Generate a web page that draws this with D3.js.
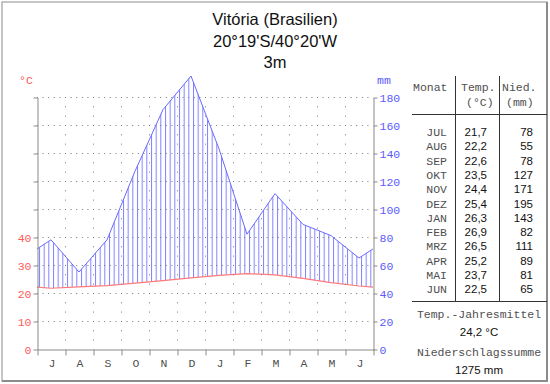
<!DOCTYPE html>
<html lang="de">
<head>
<meta charset="UTF-8">
<title>Klimadiagramm Vitória</title>
<script src="https://d3js.org/d3.v7.min.js"></script>
<style>
html, body { margin: 0; padding: 0; background: white; }
.mono { font-family: 'Liberation Mono', 'Courier New', monospace; font-size: 11.5px; }
.sans { font-family: 'Liberation Sans', Arial, sans-serif; }
.axis path, .axis line { stroke: #8a8a8a; }
.axis text { font-family: 'Liberation Mono', 'Courier New', monospace; font-size: 11.5px; }
</style>
</head>
<body>
<div id="chart"></div>
<script>

// --------------------------------------
// Data
// --------------------------------------

let months = ["J", "A", "S", "O", "N", "D", "J", "F", "M", "A", "M", "J"];
let tableMonths = ["JUL", "AUG", "SEP", "OKT", "NOV", "DEZ", "JAN", "FEB", "MRZ", "APR", "MAI", "JUN"];
let temps = [21.7, 22.2, 22.6, 23.5, 24.4, 25.4, 26.3, 26.9, 26.5, 25.2, 23.7, 22.5];
let precip = [78, 55, 78, 127, 171, 195, 143, 82, 111, 89, 81, 65];
let titleLines = ["Vitória (Brasilien)", "20°19'S/40°20'W", "3m"];

// --------------------------------------
// Size and scales
// --------------------------------------

let totalWidth = 550, totalHeight = 384;
let plot = {left: 37, right: 373, top: 97, bottom: 349};
let monoColor = "#505050";

let svg = d3.select("#chart").append("svg")
    .attr("width", totalWidth)
    .attr("height", totalHeight);

let x = d3.scaleLinear().domain([0, 12]).range([plot.left, plot.right]);
let yT = d3.scaleLinear().domain([0, 90]).range([plot.bottom, plot.top]);
let yP = d3.scaleLinear().domain([0, 180]).range([plot.bottom, plot.top]);

// frame
svg.append("rect")
    .attr("x", 2).attr("y", 2).attr("width", 545).attr("height", 379)
    .attr("fill", "white").attr("stroke", "#a0a0a0").attr("stroke-width", 1.2);
svg.append("path")
    .attr("d", "M547,2V381H2")
    .attr("fill", "none").attr("stroke", "#8c8c8c").attr("stroke-width", 2);

// title
svg.selectAll(".title")
    .data(titleLines)
    .join("text")
    .attr("class", "sans")
    .attr("x", 275)
    .attr("y", (d, i) => 25 + i * 21.5)
    .attr("text-anchor", "middle")
    .attr("font-size", "16.5px")
    .attr("fill", "#111")
    .text(d => d);

// --------------------------------------
// Hatched area between temperature and precipitation
// --------------------------------------

// wrap-around: June before July, July after June
let pts = [{i: -1, t: temps[11], p: precip[11]}]
    .concat(temps.map((t, i) => ({i: i, t: t, p: precip[i]})))
    .concat([{i: 12, t: temps[0], p: precip[0]}]);

let defs = svg.append("defs");
defs.append("clipPath").attr("id", "clip")
    .append("rect")
    .attr("x", plot.left).attr("y", 40)
    .attr("width", plot.right - plot.left).attr("height", plot.bottom - 40);

let pat = defs.append("pattern")
    .attr("id", "hatch")
    .attr("patternUnits", "userSpaceOnUse")
    .attr("x", plot.left + 2)
    .attr("width", 28 / 6).attr("height", 10);
pat.append("line")
    .attr("x1", 0.5).attr("x2", 0.5).attr("y1", 0).attr("y2", 10)
    .attr("stroke", "#8282ff").attr("stroke-width", 1);

let g = svg.append("g").attr("clip-path", "url(#clip)");

let area = d3.area()
    .x(d => x(d.i + 0.5))
    .y0(d => yT(d.t))
    .y1(d => yP(d.p));

g.append("path")
    .datum(pts)
    .attr("d", area)
    .attr("fill", "url(#hatch)");

// --------------------------------------
// Grid
// --------------------------------------

svg.selectAll(".hgrid")
    .data(d3.range(20, 181, 20))
    .join("line")
    .attr("x1", plot.left).attr("x2", plot.right)
    .attr("y1", d => yP(d) + 0.5).attr("y2", d => yP(d) + 0.5)
    .attr("stroke", "#777").attr("stroke-dasharray", "1,4.6");

svg.selectAll(".vgrid")
    .data(d3.range(1, 12))
    .join("line")
    .attr("x1", d => x(d) + 0.5).attr("x2", d => x(d) + 0.5)
    .attr("y1", plot.top).attr("y2", plot.bottom)
    .attr("stroke", "#777").attr("stroke-dasharray", "1,8.33");

// --------------------------------------
// Lines
// --------------------------------------

g.append("path")
    .datum(pts)
    .attr("d", d3.line().x(d => x(d.i + 0.5)).y(d => yP(d.p)))
    .attr("fill", "none").attr("stroke", "#6a6aff").attr("stroke-width", 1);

g.append("path")
    .datum(pts)
    .attr("d", d3.line().x(d => x(d.i + 0.5)).y(d => yT(d.t)))
    .attr("fill", "none").attr("stroke", "#ff7a7a").attr("stroke-width", 1.2);

// --------------------------------------
// Axes
// --------------------------------------

let left = svg.append("g")
    .attr("class", "axis")
    .attr("transform", `translate(${plot.left + 0.5},0.5)`)
    .call(d3.axisLeft(yT).tickValues(d3.range(0, 91, 10))
        .tickFormat(d => d <= 40 ? d : "")
        .tickSize(4).tickSizeOuter(0).tickPadding(2));
left.selectAll("text").attr("fill", "#ff5a5a");

let right = svg.append("g")
    .attr("class", "axis")
    .attr("transform", `translate(${plot.right + 0.5},0.5)`)
    .call(d3.axisRight(yP).tickValues(d3.range(0, 181, 20))
        .tickSize(4).tickSizeOuter(0).tickPadding(2));
right.selectAll("text").attr("fill", "#5a5aff");

let bottom = svg.append("g")
    .attr("class", "axis")
    .attr("transform", `translate(0.5,${plot.bottom + 0.5})`)
    .call(d3.axisBottom(x).tickValues(d3.range(0, 13))
        .tickFormat("").tickSize(6).tickSizeOuter(0));

svg.selectAll(".month")
    .data(months)
    .join("text")
    .attr("class", "mono")
    .attr("x", (d, i) => x(i + 0.5) + 1)
    .attr("y", 367)
    .attr("text-anchor", "middle")
    .attr("fill", monoColor)
    .text(d => d);

svg.append("text").attr("class", "mono")
    .attr("x", 19).attr("y", 84).attr("fill", "#ff5a5a").text("°C");
svg.append("text").attr("class", "mono")
    .attr("x", 377).attr("y", 84).attr("fill", "#5a5aff")
    .attr("font-size", "10px").text("mm");

// --------------------------------------
// Table
// --------------------------------------

let rowY = i => 136 + i * 14.3;
let tbl = svg.append("g");

tbl.append("text").attr("class", "mono").attr("x", 413).attr("y", 91).attr("fill", monoColor).text("Monat");
tbl.append("text").attr("class", "mono").attr("x", 461).attr("y", 91).attr("fill", monoColor).text("Temp.");
tbl.append("text").attr("class", "mono").attr("x", 466).attr("y", 106).attr("fill", monoColor).text("(°C)");
tbl.append("text").attr("class", "mono").attr("x", 502).attr("y", 91).attr("fill", monoColor).text("Nied.");
tbl.append("text").attr("class", "mono").attr("x", 506).attr("y", 106).attr("fill", monoColor).text("(mm)");

[114, 301].forEach(yy => tbl.append("line")
    .attr("x1", 412).attr("x2", 547).attr("y1", yy + 0.5).attr("y2", yy + 0.5)
    .attr("stroke", "#333"));
[455, 499].forEach(xx => tbl.append("line")
    .attr("x1", xx + 0.5).attr("x2", xx + 0.5).attr("y1", 76).attr("y2", 301)
    .attr("stroke", "#333"));

tbl.selectAll(".tm")
    .data(tableMonths)
    .join("text")
    .attr("class", "mono")
    .attr("x", 447).attr("y", (d, i) => rowY(i))
    .attr("text-anchor", "end").attr("fill", monoColor)
    .text(d => d);

tbl.selectAll(".tt")
    .data(temps)
    .join("text")
    .attr("class", "sans").attr("font-size", "11.5px")
    .attr("x", 487).attr("y", (d, i) => rowY(i))
    .attr("text-anchor", "end").attr("fill", "#111")
    .text(d => d.toFixed(1).replace(".", ","));

tbl.selectAll(".tp")
    .data(precip)
    .join("text")
    .attr("class", "sans").attr("font-size", "11.5px")
    .attr("x", 533).attr("y", (d, i) => rowY(i))
    .attr("text-anchor", "end").attr("fill", "#111")
    .text(d => d);

// summary
let meanT = d3.mean(temps), sumP = d3.sum(precip);
tbl.append("text").attr("class", "mono").attr("x", 479).attr("y", 318)
    .attr("text-anchor", "middle").attr("fill", monoColor).text("Temp.-Jahresmittel");
tbl.append("text").attr("class", "sans").attr("font-size", "11.5px")
    .attr("x", 479).attr("y", 336).attr("text-anchor", "middle").attr("fill", "#111")
    .text(meanT.toFixed(1).replace(".", ",") + " °C");
tbl.append("text").attr("class", "mono").attr("x", 479).attr("y", 356)
    .attr("text-anchor", "middle").attr("fill", monoColor).text("Niederschlagssumme");
tbl.append("text").attr("class", "sans").attr("font-size", "11.5px")
    .attr("x", 479).attr("y", 374).attr("text-anchor", "middle").attr("fill", "#111")
    .text(sumP + " mm");

</script>
</body>
</html>
